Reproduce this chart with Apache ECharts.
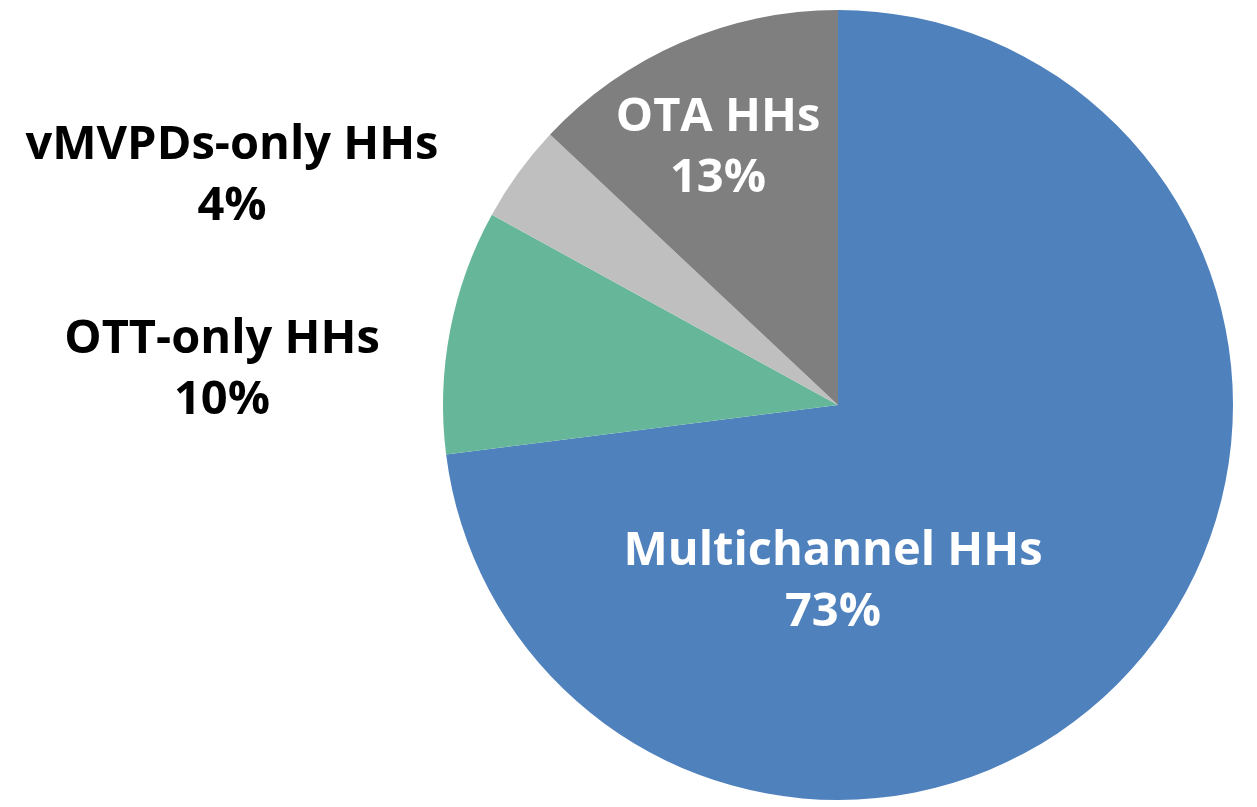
<!DOCTYPE html>
<html>
<head>
<meta charset="utf-8">
<script src="https://cdn.jsdelivr.net/npm/echarts@6/dist/echarts.min.js"></script>
<style>html,body{margin:0;padding:0;background:#fff;}#c{width:1257px;height:807px;}</style>
</head>
<body>
<div id="c"></div>
<script>
const categories = ['Multichannel HHs', 'OTT-only HHs', 'vMVPDs-only HHs', 'OTA HHs'];
const values = [73, 10, 4, 13];
const colors = ['#4F81BD', '#66B79A', '#BFBFBF', '#7F7F7F'];
const labelColors = ['#FFFFFF', '#000000', '#000000', '#FFFFFF'];
const labelPos = [[833, 582], [222, 370], [232, 176], [718, 148]];

const chart = echarts.init(document.getElementById('c'), null, {renderer: 'canvas'});
chart.setOption({
  animation: false,
  series: [{
    type: 'pie',
    center: [838, 405],
    radius: 395,
    startAngle: 90,
    clockwise: true,
    avoidLabelOverlap: false,
    label: {
      show: true,
      position: 'inside',
      fontFamily: 'Open Sans',
      fontWeight: 'bold',
      fontSize: 47,
      lineHeight: 61,
      align: 'center',
      formatter: p => p.name + '\n' + p.value + '%'
    },
    labelLine: {show: false},
    labelLayout: p => ({x: labelPos[p.dataIndex][0], y: labelPos[p.dataIndex][1], align: 'center', verticalAlign: 'middle'}),
    data: categories.map((n, i) => ({
      name: n, value: values[i],
      itemStyle: {color: colors[i]},
      label: {color: labelColors[i]}
    }))
  }]
});
</script>
</body>
</html>
